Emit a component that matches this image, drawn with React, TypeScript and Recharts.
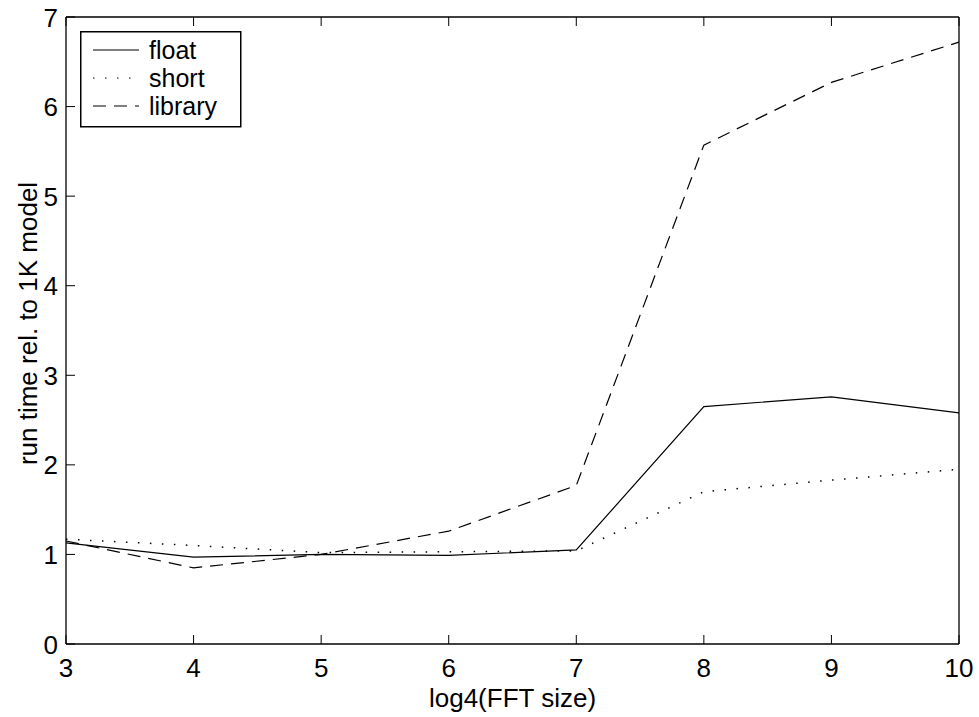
import { LineChart, Line, XAxis, YAxis, Legend, Label } from 'recharts'

const fftLog4 = [3, 4, 5, 6, 7, 8, 9, 10]
const floatTimes = [1.13, 0.97, 1.0, 0.99, 1.05, 2.65, 2.76, 2.58]
const shortTimes = [1.17, 1.1, 1.02, 1.03, 1.04, 1.7, 1.83, 1.95]
const libraryTimes = [1.15, 0.85, 1.0, 1.26, 1.77, 5.57, 6.27, 6.72]
const xTicks = [3, 4, 5, 6, 7, 8, 9, 10]
const yTicks = [0, 1, 2, 3, 4, 5, 6, 7]

const data = fftLog4.map((x, i) => ({
  x,
  float: floatTimes[i],
  short: shortTimes[i],
  library: libraryTimes[i],
}))

const FONT = '"Liberation Sans", Arial, Helvetica, sans-serif'
const DOTS = '1.5 10.5'
const DASHES = '13 8'

function BottomTick({ x, y, payload }: any) {
  return (
    <g>
      <line x1={x} x2={x} y1={y} y2={y - 9} stroke="#000" />
      <text x={x} y={y + 33} textAnchor="middle" fontSize={26} fontFamily={FONT} fill="#000">
        {payload.value}
      </text>
    </g>
  )
}

function LeftTick({ x, y, payload }: any) {
  return (
    <g>
      <line x1={x} x2={x + 9} y1={y} y2={y} stroke="#000" />
      <text x={x - 8} y={y + 9.5} textAnchor="end" fontSize={26} fontFamily={FONT} fill="#000">
        {payload.value}
      </text>
    </g>
  )
}

function TopTick({ x, y }: any) {
  return <line x1={x} x2={x} y1={y} y2={y + 9} stroke="#000" />
}

function RightTick({ x, y }: any) {
  return <line x1={x} x2={x - 9} y1={y} y2={y} stroke="#000" />
}

function YLabel({ viewBox }: any) {
  const cx = viewBox.x + 28
  const cy = viewBox.y + viewBox.height / 2 - 7
  return (
    <text
      x={cx}
      y={cy}
      transform={`rotate(-90 ${cx} ${cy})`}
      textAnchor="middle"
      dominantBaseline="central"
      fontSize={26}
      fontFamily={FONT}
      fill="#000"
    >
      run time rel. to 1K model
    </text>
  )
}

function LegendBox() {
  const rows = [
    { name: 'float', dash: undefined },
    { name: 'short', dash: DOTS },
    { name: 'library', dash: DASHES },
  ]
  return (
    <svg width={162} height={97} style={{ display: 'block' }}>
      <rect x={0.75} y={0.75} width={160} height={95} fill="#fff" stroke="#000" strokeWidth={1.5} />
      {rows.map((r, i) => {
        const cy = 19 + i * 28
        return (
          <g key={r.name}>
            <line x1={13} x2={59} y1={cy} y2={cy} stroke="#000" strokeDasharray={r.dash} />
            <text x={69} y={cy + 9} fontSize={25} fontFamily={FONT} fill="#000">
              {r.name}
            </text>
          </g>
        )
      })}
    </svg>
  )
}

export default function App() {
  return (
    <div style={{ position: 'absolute', left: 0, top: 0, background: '#fff' }}>
      <LineChart width={979} height={717} data={data} margin={{ top: 16, right: 19, bottom: 0, left: 0 }}>
        <XAxis
          xAxisId="b"
          dataKey="x"
          type="number"
          domain={[3, 10]}
          ticks={xTicks}
          height={73}
          tickSize={0}
          tickMargin={0}
          tickLine={false}
          axisLine={{ stroke: '#000', strokeWidth: 1.3 }}
          tick={<BottomTick />}
          interval={0}
        >
          <Label
            value="log4(FFT size)"
            position="insideBottom"
            offset={10}
            style={{ fontSize: 26, fontFamily: FONT, fill: '#000' }}
          />
        </XAxis>
        <XAxis
          xAxisId="t"
          orientation="top"
          dataKey="x"
          type="number"
          domain={[3, 10]}
          ticks={xTicks}
          height={1}
          tickSize={0}
          tickMargin={0}
          tickLine={false}
          axisLine={{ stroke: '#000', strokeWidth: 1.3 }}
          tick={<TopTick />}
          interval={0}
        />
        <YAxis
          yAxisId="l"
          type="number"
          domain={[0, 7]}
          ticks={yTicks}
          width={66}
          tickSize={0}
          tickMargin={0}
          tickLine={false}
          axisLine={{ stroke: '#000', strokeWidth: 1.3 }}
          tick={<LeftTick />}
          interval={0}
        >
          <Label content={<YLabel />} />
        </YAxis>
        <YAxis
          yAxisId="r"
          orientation="right"
          type="number"
          domain={[0, 7]}
          ticks={yTicks}
          width={1}
          tickSize={0}
          tickMargin={0}
          tickLine={false}
          axisLine={{ stroke: '#000', strokeWidth: 1.3 }}
          tick={<RightTick />}
          interval={0}
        />
        <Legend
          layout="horizontal"
          verticalAlign="middle"
          align="center"
          content={<LegendBox />}
          wrapperStyle={{ left: 80, top: 31, width: 162, height: 97 }}
        />
        <Line xAxisId="b" yAxisId="l" dataKey="float" stroke="#000" strokeWidth={1.2} dot={false} isAnimationActive={false} />
        <Line xAxisId="b" yAxisId="l" dataKey="short" stroke="#000" strokeWidth={1.5} strokeDasharray={DOTS} dot={false} isAnimationActive={false} />
        <Line xAxisId="b" yAxisId="l" dataKey="library" stroke="#000" strokeWidth={1.2} strokeDasharray={DASHES} dot={false} isAnimationActive={false} />
      </LineChart>
    </div>
  )
}
